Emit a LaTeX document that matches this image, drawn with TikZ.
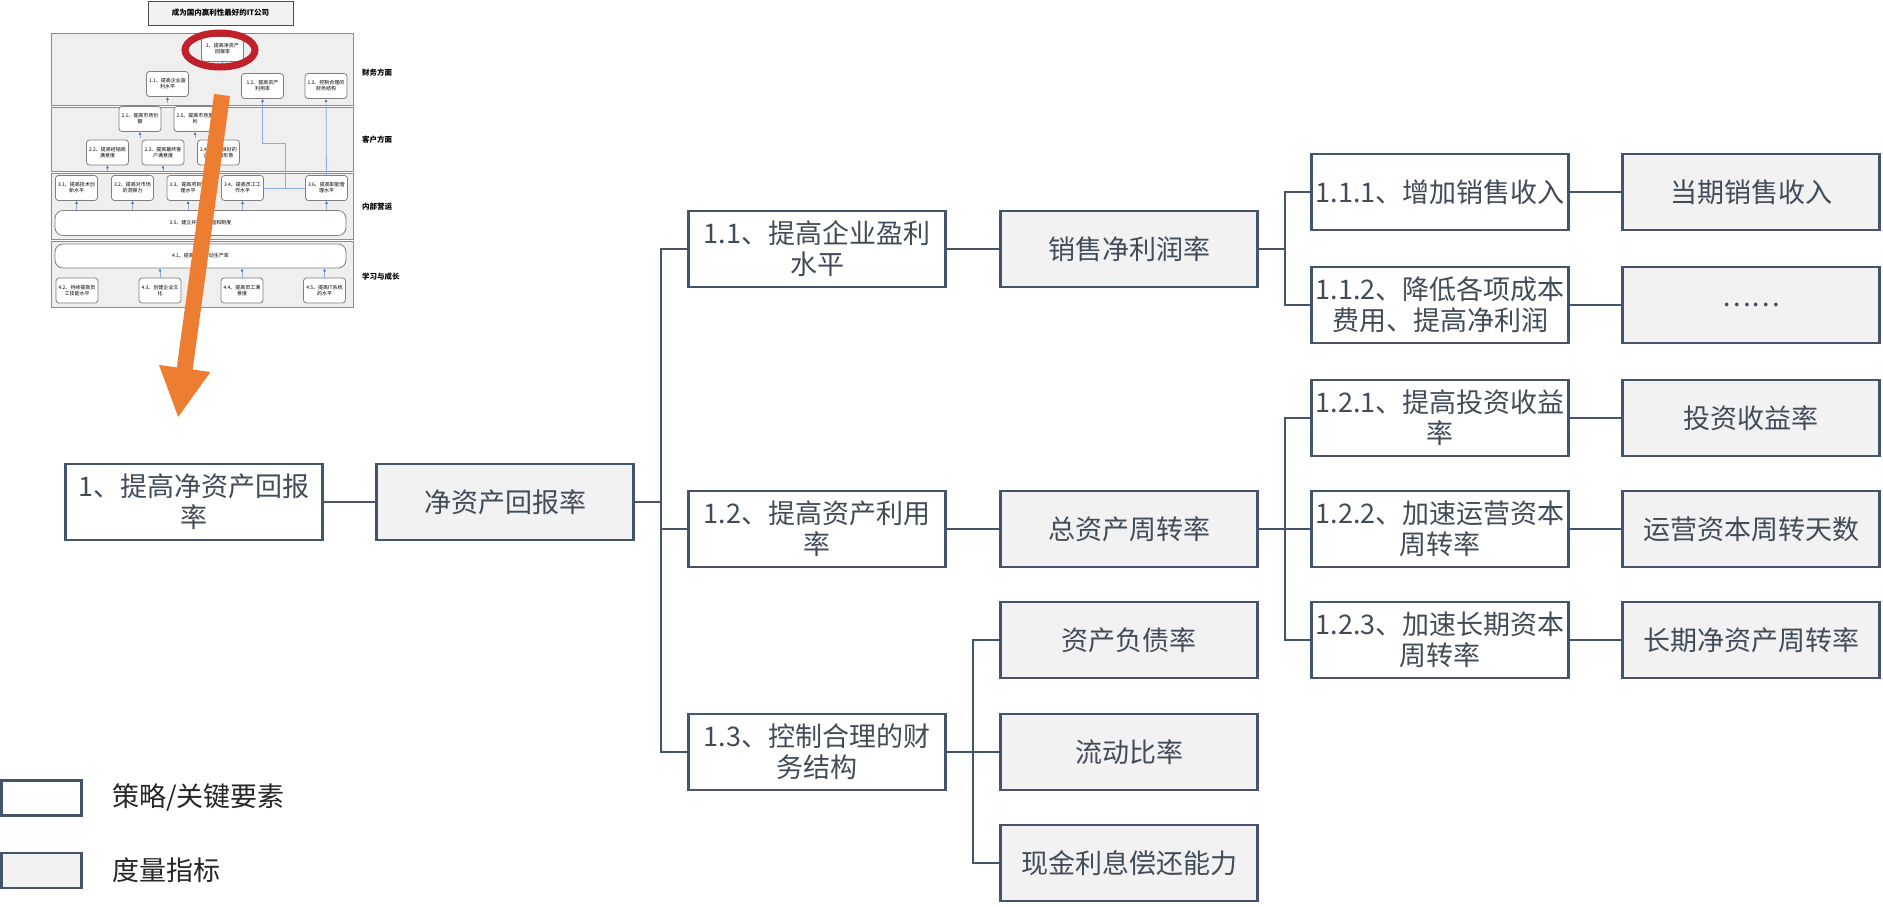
\documentclass[tikz,border=0pt]{standalone}
\usepackage{fontspec}
\newfontfamily\cjk{Noto Sans CJK SC}
\usepackage{tikz}
\usetikzlibrary{arrows.meta,positioning,calc}
\definecolor{ink}{HTML}{44546A}
\definecolor{txt}{HTML}{414C58}
\definecolor{mfill}{HTML}{F2F2F2}
\definecolor{bandc}{HTML}{EFEFEF}
\definecolor{tgray}{HTML}{7F7F7F}
\definecolor{tblue}{HTML}{8FAADC}
\definecolor{tdark}{HTML}{4472C4}
\definecolor{rred}{HTML}{C0202A}
\definecolor{orng}{HTML}{ED7D31}
\tikzset{
  box/.style={draw=ink,line width=2.6pt,minimum width=257pt,minimum height=76pt,inner sep=1pt,align=center,text=txt,font=\cjk\fontsize{27pt}{31pt}\selectfont,fill=white},
  mbox/.style={box,fill=mfill},
  link/.style={draw=ink,line width=2.6pt},
  legbox/.style={draw=ink,line width=2.6pt,minimum width=80pt,minimum height=35pt,inner sep=0pt},
  leg/.style={anchor=west,inner sep=0pt,text=black!85,font=\cjk\fontsize{27pt}{31pt}\selectfont},
  tband/.style={draw=black!45,fill=bandc,line width=0.9pt,minimum width=302pt,inner sep=0pt},
  tbox/.style={draw=tgray,fill=white,line width=0.8pt,rounded corners=3pt,minimum width=42pt,minimum height=25pt,inner sep=0.5pt,align=center,font=\cjk\fontsize{5pt}{6pt}\selectfont},
  twide/.style={tbox,minimum width=291pt,rounded corners=8pt},
  tside/.style={anchor=west,inner sep=0pt,font=\cjk\bfseries\fontsize{7.5pt}{9pt}\selectfont},
  tline/.style={draw=tblue,line width=0.8pt},
  tarr/.style={tline,-{Latex[length=3pt,width=3pt,color=tdark]}},
  halo/.style={draw=rred,line width=7pt},
  pointer/.style={draw=orng,line width=16pt,-{Triangle[length=50pt,width=48pt]}},
}
\begin{document}
\begin{tikzpicture}[x=1pt,y=-1pt]
\useasboundingbox (0,0) rectangle (1883,906);
\fill[white] (0,0) rectangle (1883,906);
% small strategy map
\node[draw=black!70,fill=mfill,line width=1pt,minimum width=145pt,minimum height=24pt,inner sep=0pt,font=\cjk\bfseries\fontsize{7.5pt}{9pt}\selectfont] (goal) at (220.5,13) {成为国内赢利性最好的IT公司};
\node[tband,minimum height=72pt] (b1) at (202,69) {};
\node[tband,minimum height=64pt] (b2) at (202,139) {};
\node[tband,minimum height=66pt] (b3) at (202,206) {};
\node[tband,minimum height=66pt] (b4) at (202,274) {};
\node[tside] (s1) at (362,73) {财务方面};
\node[tside] (s2) at (362,140) {客户方面};
\node[tside] (s3) at (362,207) {内部营运};
\node[tside] (s4) at (362,277) {学习与成长};
\node[tbox] (t1) at (222.5,49) {1、提高净资产\\回报率};
\node[tbox] (t11) at (167.5,84) {1.1、提高企业盈\\利水平};
\node[tbox] (t12) at (262.5,86) {1.2、提高资产\\利用率};
\node[tbox] (t13) at (326,86) {1.3、控制合理的\\财务结构};
\node[tbox] (t21) at (140,119) {2.1、提高市场份\\额};
\node[tbox] (t25) at (195,119) {2.5、提高市场盈\\利};
\node[tbox] (t22) at (107.5,152.5) {2.2、提高经销商\\满意度};
\node[tbox] (t23) at (163,152.5) {2.3、提高最终客\\户满意度};
\node[tbox] (t24) at (218.5,152.5) {2.4、树立良好的\\企业品牌形象};
\node[tbox] (t31) at (76.5,188) {3.1、提高技术创\\新水平};
\node[tbox] (t32) at (132.5,188) {3.2、提高对市场\\的洞察力};
\node[tbox] (t33) at (188,188) {3.3、提高项目管\\理水平};
\node[tbox] (t34) at (242.5,188) {3.4、提高员工工\\作水平};
\node[tbox] (t36) at (326.5,188) {3.6、提高职能管\\理水平};
\node[twide] (t35) at (200.5,223) {3.5、建立并完善流程和制度};
\node[twide,minimum height=24pt] (t41) at (200.5,256) {4.1、提高员工劳动生产率};
\node[tbox] (t42) at (77,290.5) {4.2、持续提高员\\工技能水平};
\node[tbox] (t43) at (160,290.5) {4.3、创建企业文\\化};
\node[tbox] (t44) at (242,290.5) {4.4、提高员工满\\意度};
\node[tbox] (t45) at (324.5,290.5) {4.5、提高IT系统\\的水平};
\foreach \n in {t1,t11,t21,t25,t22,t23,t24} \draw[tarr] (\n.south) ++(0,6) -- (\n.south);
\foreach \n in {t31,t32,t33,t34,t36} \draw[tarr] (t35.north -| \n) -- (\n);
\foreach \n in {t43,t44,t45} \draw[tarr] (\n) -- (t41.south -| \n);
\coordinate (tj) at (285,188);
\coordinate (tk) at (285,143);
\draw[tline] (t34) -- (t36);
\draw[tarr] (tj) -- (tk) -| (t12);
\draw[tarr] (t36) -- (t13);
\coordinate (pS) at (222,95);
\coordinate (pE) at (178,418);
\draw[pointer] (pS) -- (pE);
\draw[halo] (220,50) ellipse [x radius=35,y radius=17];
% tree
\node[box] (n1) at (194,502) {1、提高净资产回报\\率};
\node[mbox] (m1) at (505,502) {净资产回报率};
\node[box] (n11) at (817,249) {1.1、提高企业盈利\\水平};
\node[box] (n12) at (817,529) {1.2、提高资产利用\\率};
\node[box] (n13) at (817,752) {1.3、控制合理的财\\务结构};
\node[mbox] (m11) at (1129,249) {销售净利润率};
\node[mbox] (m12) at (1129,529) {总资产周转率};
\node[mbox] (m131) at (1129,640) {资产负债率};
\node[mbox] (m132) at (1129,752) {流动比率};
\node[mbox] (m133) at (1129,863) {现金利息偿还能力};
\node[box] (n111) at (1440,192) {1.1.1、增加销售收入};
\node[box] (n112) at (1440,305) {1.1.2、降低各项成本\\费用、提高净利润};
\node[box] (n121) at (1440,418) {1.2.1、提高投资收益\\率};
\node[box] (n122) at (1440,529) {1.2.2、加速运营资本\\周转率};
\node[box] (n123) at (1440,640) {1.2.3、加速长期资本\\周转率};
\node[mbox] (m111) at (1751,192) {当期销售收入};
\node[mbox] (m112) at (1751,305) {……};
\node[mbox] (m121) at (1751,418) {投资收益率};
\node[mbox] (m122) at (1751,529) {运营资本周转天数};
\node[mbox] (m123) at (1751,640) {长期净资产周转率};
\coordinate (j0) at (661,502);
\coordinate (j11) at (1285,249);
\coordinate (j12) at (1285,529);
\coordinate (j13) at (973,752);
\draw[link] (n1) -- (m1);
\draw[link] (m1) -- (j0);
\foreach \n in {n11,n12,n13} \draw[link] (j0) |- (\n);
\draw[link] (n11) -- (m11); \draw[link] (n12) -- (m12);
\draw[link] (n13) -- (j13);
\foreach \n in {m131,m132,m133} \draw[link] (j13) |- (\n);
\draw[link] (m11) -- (j11);
\foreach \n in {n111,n112} \draw[link] (j11) |- (\n);
\draw[link] (m12) -- (j12);
\foreach \n in {n121,n122,n123} \draw[link] (j12) |- (\n);
\foreach \a/\b in {n111/m111,n112/m112,n121/m121,n122/m122,n123/m123} \draw[link] (\a) -- (\b);
% legend
\node[legbox,fill=white] (lg1) at (41.5,798) {};
\node[legbox,fill=mfill] (lg2) at (41.5,870.5) {};
\node[leg] (lt1) at (112,798) {策略/关键要素};
\node[leg] (lt2) at (112,870) {度量指标};
\end{tikzpicture}
\end{document}
